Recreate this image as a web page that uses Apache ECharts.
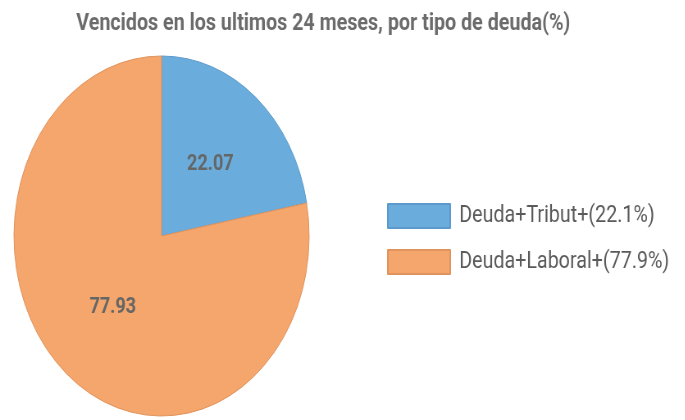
<!DOCTYPE html>
<html>
<head>
<meta charset="utf-8">
<script src="https://cdn.jsdelivr.net/npm/echarts@6/dist/echarts.min.js"></script>
<style>
  html, body { margin: 0; padding: 0; background: #fff; overflow: hidden; }
  #wrap { width: 685px; height: 420px; overflow: hidden; }
  /* el grafico original esta comprimido en horizontal */
  #main { width: 835px; height: 420px; transform: scaleX(0.82); transform-origin: 0 0; }
</style>
</head>
<body>
<div id="wrap"><div id="main"></div></div>
<script>
// datos
var categorias = ['Deuda+Tribut+', 'Deuda+Laboral+'];
var valores = [22.07, 77.93];
var colores = ['#6aaddc', '#f4a66c'];
var bordes = ['#5b9acb', '#e0935c'];

var total = valores.reduce(function (a, b) { return a + b; }, 0);
var datos = categorias.map(function (c, i) {
    return {
        name: c,
        value: valores[i],
        itemStyle: { color: colores[i], borderColor: bordes[i], borderWidth: 1 }
    };
});

var myChart = echarts.init(document.getElementById('main'));
var option = {
    animation: false,
    title: {
        text: 'Vencidos en los ultimos 24 meses, por tipo de deuda(%)',
        left: 88,
        top: 7,
        textStyle: { fontFamily: 'Roboto', fontSize: 24, fontWeight: 'bold', color: '#6b6b6b' }
    },
    legend: {
        orient: 'vertical',
        left: 472,
        top: 203,
        padding: 0,
        icon: 'rect',
        itemWidth: 76,
        itemHeight: 24,
        itemGap: 20,
        data: categorias,
        formatter: function (name) {
            var v = valores[categorias.indexOf(name)];
            return name + '(' + (v / total * 100).toFixed(1) + '%)';
        },
        textStyle: { fontFamily: 'Roboto', fontSize: 24, color: '#5a5a5a', padding: [0, 0, 0, 6] }
    },
    series: [{
        type: 'pie',
        center: [197, 236],
        radius: 180,
        startAngle: 90,
        clockwise: true,
        label: {
            show: true,
            position: 'inside',
            formatter: '{c}',
            fontFamily: 'Roboto',
            fontSize: 22,
            fontWeight: 'bold',
            color: '#666666',
            textBorderWidth: 0
        },
        labelLine: { show: false },
        emphasis: { disabled: true },
        data: datos
    }]
};
myChart.setOption(option);
</script>
</body>
</html>
